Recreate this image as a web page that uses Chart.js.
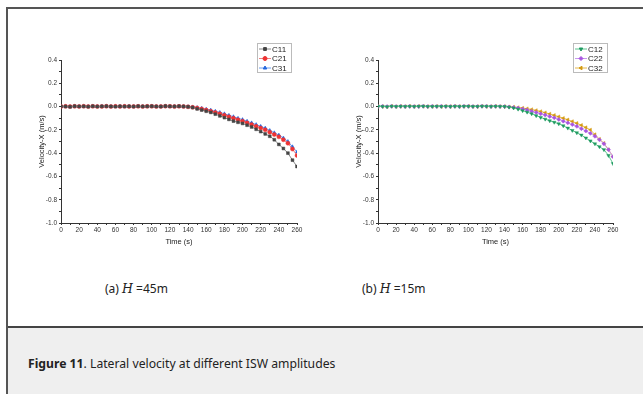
<!DOCTYPE html>
<html>
<head>
<meta charset="utf-8">
<script src="https://cdn.jsdelivr.net/npm/chart.js@4.4.1/dist/chart.umd.min.js"></script>
<style>
  body { margin: 0; width: 643px; height: 394px; background: #fff; position: relative; overflow: hidden; font-family: "Noto Sans", sans-serif; }
  .frame { position: absolute; left: 6px; top: 7px; width: 700px; height: 400px; border-left: 2px solid #555; border-top: 2px solid #555; }
  .foot { position: absolute; left: 8px; top: 326px; width: 700px; height: 80px; background: #efefef; border-top: 2px solid #444; }
  .box { position: absolute; }
  .sub { position: absolute; top: 280px; font-size: 12px; color: #222; }
  .sub i { font-family: "DejaVu Serif", serif; font-size: 12.5px; }
  .cap { position: absolute; left: 28px; top: 355px; font-size: 12.2px; color: #222; }
</style>
</head>
<body>
<div class="frame"></div>
<div class="foot"></div>
<div class="box" style="left:30px;top:40px;width:280px;height:210px"><canvas id="chartA"></canvas></div>
<div class="box" style="left:340px;top:40px;width:290px;height:210px"><canvas id="chartB"></canvas></div>
<div class="sub" style="left:105px">(a) <i>H</i> =45m</div>
<div class="sub" style="left:362px">(b) <i>H</i> =15m</div>
<div class="cap"><b>Figure 11</b>. Lateral velocity at different ISW amplitudes</div>
<script>
const times = [];
for (let t = 0; t <= 260; t += 5) times.push(t);

// H = 45 m
const c11 = [0.002,0.001,-0.002,0.003,0.001,0.002,-0.001,0.003,0.000,0.002,0.003,0.001,0.000,0.002,0.001,0.002,0.000,0.003,0.001,0.002,0.003,0.001,0.000,0.004,0.002,0.001,0.003,0.001,
  -0.002,-0.008,-0.02,-0.03,-0.04,-0.05,-0.065,-0.08,-0.095,-0.11,-0.125,-0.135,-0.145,-0.16,-0.175,-0.195,-0.215,-0.235,-0.255,-0.285,-0.325,-0.36,-0.4,-0.46,-0.515];
const c21 = [0.001,0.002,0.000,0.002,0.001,0.003,0.000,0.002,0.001,0.001,0.003,0.000,0.002,0.001,0.002,0.001,0.001,0.002,0.000,0.002,0.002,0.001,0.001,0.003,0.002,0.000,0.002,0.001,
  -0.002,-0.006,-0.012,-0.02,-0.03,-0.04,-0.05,-0.062,-0.075,-0.088,-0.1,-0.113,-0.125,-0.14,-0.155,-0.17,-0.185,-0.2,-0.22,-0.24,-0.26,-0.285,-0.315,-0.365,-0.42];
const c31 = [0.001,0.001,-0.001,0.003,0.000,0.002,0.000,0.003,0.001,0.002,0.002,0.001,0.001,0.002,0.000,0.002,0.001,0.002,0.001,0.001,0.003,0.000,0.001,0.003,0.001,0.001,0.002,0.001,
  -0.001,-0.004,-0.008,-0.014,-0.022,-0.03,-0.04,-0.05,-0.062,-0.075,-0.087,-0.1,-0.112,-0.125,-0.14,-0.155,-0.17,-0.185,-0.205,-0.225,-0.245,-0.27,-0.3,-0.345,-0.39];

// H = 15 m
const c12 = [0.002,0.001,-0.002,0.003,0.000,0.002,0.001,0.002,0.000,0.002,0.003,0.001,0.001,0.002,0.001,0.002,0.000,0.002,0.001,0.002,0.002,0.001,0.001,0.003,0.002,0.001,0.002,0.001,
  0.000,-0.005,-0.012,-0.022,-0.035,-0.048,-0.062,-0.078,-0.093,-0.108,-0.122,-0.135,-0.148,-0.165,-0.185,-0.205,-0.225,-0.245,-0.27,-0.295,-0.32,-0.345,-0.37,-0.42,-0.49];
const c22 = [0.001,0.002,0.000,0.002,0.001,0.002,0.000,0.002,0.001,0.001,0.003,0.000,0.002,0.001,0.002,0.001,0.001,0.002,0.000,0.002,0.002,0.001,0.001,0.003,0.002,0.000,0.002,0.001,
  0.000,-0.003,-0.007,-0.013,-0.02,-0.03,-0.04,-0.05,-0.062,-0.073,-0.085,-0.097,-0.11,-0.125,-0.14,-0.155,-0.17,-0.19,-0.21,-0.23,-0.255,-0.285,-0.32,-0.37,-0.43];
const c32 = [0.001,0.001,-0.001,0.003,0.000,0.002,0.001,0.003,0.001,0.002,0.002,0.001,0.001,0.002,0.000,0.002,0.001,0.002,0.001,0.001,0.003,0.000,0.001,0.003,0.001,0.001,0.002,0.001,
  0.001,-0.002,-0.004,-0.008,-0.013,-0.018,-0.025,-0.033,-0.042,-0.052,-0.063,-0.075,-0.087,-0.1,-0.113,-0.128,-0.143,-0.16,-0.18,-0.2,-0.24,-0.28,-0.315,-0.37,-0.43];

function series(label, vals, color, line, style, rot) {
  return {
    label: label,
    data: times.map((t, i) => ({ x: t, y: vals[i] })),
    borderColor: line,
    backgroundColor: color,
    pointBorderColor: color,
    pointBackgroundColor: color,
    borderWidth: 1,
    pointStyle: style,
    pointRotation: rot || 0,
    pointRadius: 2,
    pointBorderWidth: 0.5,
    tension: 0
  };
}

// boxed legend in the upper right, like the original plot
const boxLegend = {
  id: 'boxLegend',
  afterDraw(chart) {
    const ctx = chart.ctx;
    const ca = chart.chartArea;
    const w = 34, h = 29;
    const x0 = ca.right - 6 - w, y0 = 3;
    ctx.save();
    ctx.fillStyle = '#fff';
    ctx.fillRect(x0, y0, w, h);
    ctx.strokeStyle = '#bbb';
    ctx.lineWidth = 1;
    ctx.strokeRect(x0 + 0.5, y0 + 0.5, w, h);
    chart.data.datasets.forEach((ds, i) => {
      const y = y0 + 6 + i * 9.5;
      ctx.strokeStyle = ds.borderColor;
      ctx.lineWidth = 1;
      ctx.beginPath();
      ctx.moveTo(x0 + 2, y);
      ctx.lineTo(x0 + 14, y);
      ctx.stroke();
      ctx.fillStyle = ds.pointBackgroundColor;
      ctx.strokeStyle = ds.pointBorderColor;
      Chart.helpers.drawPoint(ctx, { pointStyle: ds.pointStyle, radius: 2, rotation: ds.pointRotation, borderWidth: 0.5 }, x0 + 8, y);
      ctx.fillStyle = '#222';
      ctx.font = '8px "Liberation Sans", Arial, sans-serif';
      ctx.textBaseline = 'middle';
      ctx.fillText(ds.label, x0 + 15, y + 0.5);
    });
    ctx.restore();
  }
};

function makeChart(id, datasets, leftPad, rightPad) {
  const tickFont = { family: '"Liberation Sans", Arial, sans-serif', size: 6.5 };
  const titleFont = { family: '"Liberation Sans", Arial, sans-serif', size: 7.5 };
  return new Chart(document.getElementById(id), {
    type: 'line',
    data: { datasets: datasets },
    options: {
      responsive: true,
      maintainAspectRatio: false,
      animation: false,
      layout: { padding: { top: 20, right: rightPad, left: leftPad, bottom: 4 } },
      plugins: { legend: { display: false }, tooltip: { enabled: false } },
      scales: {
        x: {
          type: 'linear', min: 0, max: 260,
          afterFit: (s) => { s.height = 23; },
          border: { color: '#333', width: 1 },
          grid: { drawOnChartArea: false, tickLength: 2, tickColor: '#333' },
          ticks: {
            stepSize: 10, autoSkip: false, maxRotation: 0, padding: 1,
            color: '#333', font: tickFont,
            callback: (v) => (v % 20 === 0 ? String(v) : '')
          },
          title: { display: true, text: 'Time (s)', color: '#222', padding: 0, font: titleFont }
        },
        y: {
          min: -1, max: 0.4,
          afterFit: (s) => { s.width = 24; },
          border: { color: '#333', width: 1 },
          grid: { drawOnChartArea: false, tickLength: 2, tickColor: '#333' },
          ticks: {
            stepSize: 0.1, autoSkip: false, padding: 2,
            color: '#333', font: tickFont,
            callback: (v) => { const k = Math.round(v * 10); return k % 2 === 0 ? (k / 10).toFixed(1) : ''; }
          },
          title: { display: true, text: 'Velocity-X (m/s)', color: '#222', padding: 0, font: titleFont }
        }
      }
    },
    plugins: [boxLegend]
  });
}

makeChart('chartA', [
  series('C11', c11, '#444444', '#888888', 'rect', 0),
  series('C21', c21, '#ee3333', '#f08080', 'circle', 0),
  series('C31', c31, '#2266dd', '#6b9ef0', 'triangle', 0)
], 7, 13);

makeChart('chartB', [
  series('C12', c12, '#1f9a60', '#5cc690', 'triangle', 180),
  series('C22', c22, '#a855e0', '#c89af0', 'rectRot', 0),
  series('C32', c32, '#d49a10', '#e6b84a', 'triangle', 270)
], 14, 17);
</script>
</body>
</html>
